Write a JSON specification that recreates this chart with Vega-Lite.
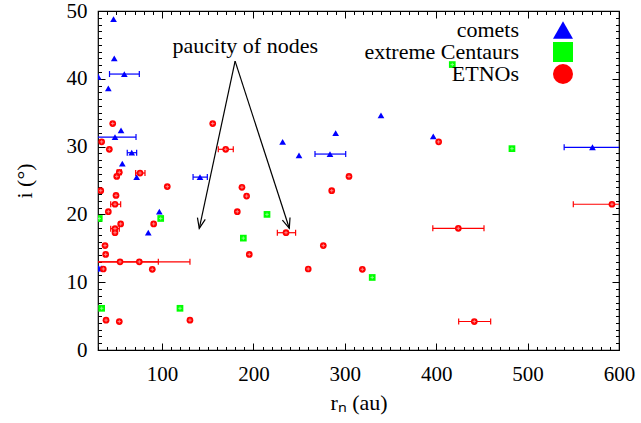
{
  "$schema": "https://vega.github.io/schema/vega-lite/v6.json",
  "width": 521,
  "height": 339,
  "autosize": "none",
  "padding": {"left": 98, "top": 11, "right": 22, "bottom": 73},
  "config": {
    "view": {"stroke": "black", "strokeWidth": 1.2},
    "axis": {
      "labelColor": "black", "titleColor": "black", "tickColor": "black",
      "domain": false, "grid": false, "labelFontSize": 21, "titleFontSize": 22,
      "titleFontWeight": "normal", "labelFlush": false, "tickWidth": 1
    },
    "legend": {"labelFontSize": 22, "labelColor": "black"}
  },
  "datasets": {
    "pts": [
      {"g": "comets", "x": 47, "y": 48.8},
      {"g": "comets", "x": 47.8, "y": 43.0},
      {"g": "comets", "x": 58.8, "y": 40.7, "lo": 42.6, "hi": 75.2},
      {"g": "comets", "x": 30.3, "y": 40.3},
      {"g": "comets", "x": 41.3, "y": 38.6},
      {"g": "comets", "x": 55.2, "y": 32.4},
      {"g": "comets", "x": 48.6, "y": 31.4, "lo": 25.6, "hi": 71.6},
      {"g": "comets", "x": 66.9, "y": 29.1, "lo": 62, "hi": 72.3},
      {"g": "comets", "x": 56.6, "y": 27.5},
      {"g": "comets", "x": 72.3, "y": 25.5},
      {"g": "comets", "x": 141.6, "y": 25.5, "lo": 134, "hi": 149.6},
      {"g": "comets", "x": 85, "y": 17.3},
      {"g": "comets", "x": 97.1, "y": 20.4},
      {"g": "comets", "x": 32.2, "y": 12.0, "lo": 30.5, "hi": 34},
      {"g": "comets", "x": 339.6, "y": 34.6},
      {"g": "comets", "x": 290, "y": 32.0},
      {"g": "comets", "x": 396.8, "y": 31.5},
      {"g": "comets", "x": 283.8, "y": 28.9, "lo": 267.4, "hi": 301},
      {"g": "comets", "x": 249.9, "y": 28.7},
      {"g": "comets", "x": 232, "y": 30.7},
      {"g": "comets", "x": 571, "y": 29.9, "lo": 540, "hi": 602},
      {"g": "extreme Centaurs", "x": 31.4, "y": 19.4},
      {"g": "extreme Centaurs", "x": 98.6, "y": 19.4},
      {"g": "extreme Centaurs", "x": 34, "y": 6.15},
      {"g": "extreme Centaurs", "x": 119.7, "y": 6.15},
      {"g": "extreme Centaurs", "x": 214.9, "y": 20.0},
      {"g": "extreme Centaurs", "x": 189, "y": 16.5},
      {"g": "extreme Centaurs", "x": 482.9, "y": 29.7},
      {"g": "extreme Centaurs", "x": 330, "y": 10.7},
      {"g": "extreme Centaurs", "x": 417.6, "y": 42.1},
      {"g": "ETNOs", "x": 46.1, "y": 33.4},
      {"g": "ETNOs", "x": 34, "y": 30.7},
      {"g": "ETNOs", "x": 42.4, "y": 29.6},
      {"g": "ETNOs", "x": 53.3, "y": 26.2, "lo": 51, "hi": 55.6},
      {"g": "ETNOs", "x": 50.5, "y": 25.6},
      {"g": "ETNOs", "x": 76, "y": 26.1, "lo": 71.2, "hi": 81.4},
      {"g": "ETNOs", "x": 105.8, "y": 24.1},
      {"g": "ETNOs", "x": 33, "y": 23.5},
      {"g": "ETNOs", "x": 49.7, "y": 22.8},
      {"g": "ETNOs", "x": 48.6, "y": 21.5, "lo": 43.9, "hi": 54.8},
      {"g": "ETNOs", "x": 41.3, "y": 20.4},
      {"g": "ETNOs", "x": 54.8, "y": 18.6},
      {"g": "ETNOs", "x": 48.6, "y": 17.9, "lo": 43.9, "hi": 53.3},
      {"g": "ETNOs", "x": 48.6, "y": 17.3},
      {"g": "ETNOs", "x": 90.9, "y": 18.6},
      {"g": "ETNOs", "x": 37.7, "y": 15.4},
      {"g": "ETNOs", "x": 38.4, "y": 14.1},
      {"g": "ETNOs", "x": 54.1, "y": 13.0, "lo": 12, "hi": 96},
      {"g": "ETNOs", "x": 75.2, "y": 13.0, "lo": 20, "hi": 130.6},
      {"g": "ETNOs", "x": 35.8, "y": 11.95},
      {"g": "ETNOs", "x": 89.4, "y": 11.9},
      {"g": "ETNOs", "x": 38.8, "y": 4.4},
      {"g": "ETNOs", "x": 53.3, "y": 4.2},
      {"g": "ETNOs", "x": 130.6, "y": 4.4},
      {"g": "ETNOs", "x": 155.5, "y": 33.4},
      {"g": "ETNOs", "x": 169.7, "y": 29.6, "lo": 161.6, "hi": 178},
      {"g": "ETNOs", "x": 187.5, "y": 24.0},
      {"g": "ETNOs", "x": 192.6, "y": 22.7},
      {"g": "ETNOs", "x": 182.4, "y": 20.4},
      {"g": "ETNOs", "x": 235.7, "y": 17.3, "lo": 226.2, "hi": 246.2},
      {"g": "ETNOs", "x": 195.5, "y": 14.1},
      {"g": "ETNOs", "x": 276.5, "y": 15.4},
      {"g": "ETNOs", "x": 260, "y": 11.95},
      {"g": "ETNOs", "x": 304.6, "y": 25.6},
      {"g": "ETNOs", "x": 285.7, "y": 23.5},
      {"g": "ETNOs", "x": 402.7, "y": 30.7},
      {"g": "ETNOs", "x": 319.2, "y": 11.9},
      {"g": "ETNOs", "x": 424.2, "y": 17.95, "lo": 396.3, "hi": 452.3},
      {"g": "ETNOs", "x": 592.3, "y": 21.5, "lo": 550, "hi": 634},
      {"g": "ETNOs", "x": 441.7, "y": 4.2, "lo": 424.6, "hi": 459.6}
    ],
    "arrows": [
      {"id": "L", "x": 180, "y": 42.6, "x2": 140.8, "y2": 17.95},
      {"id": "R", "x": 180, "y": 42.6, "x2": 239.3, "y2": 17.95}
    ],
    "note": [{"x": 191.1, "y": 43.8, "t": "paucity of nodes"}]
  },
  "layer": [
    {
      "data": {"name": "pts"},
      "transform": [{"filter": "isValid(datum.lo)"}],
      "mark": {"type": "rule", "clip": true, "strokeWidth": 1.2},
      "encoding": {
        "x": {"field": "lo", "type": "quantitative",
          "scale": {"domain": [30, 600], "nice": false, "zero": false},
          "axis": {"orient": "bottom", "values": [30,40,50,60,70,80,90,110,120,130,140,150,160,170,180,190,210,220,230,240,250,260,270,280,290,310,320,330,340,350,360,370,380,390,410,420,430,440,450,460,470,480,490,510,520,530,540,550,560,570,580,590], "tickSize": -3.5, "labels": false, "title": null}},
        "x2": {"field": "hi"},
        "y": {"field": "y", "type": "quantitative",
          "scale": {"domain": [0, 50], "nice": false, "zero": false},
          "axis": {"orient": "left", "values": [1,2,3,4,5,6,7,8,9,11,12,13,14,15,16,17,18,19,21,22,23,24,25,26,27,28,29,31,32,33,34,35,36,37,38,39,41,42,43,44,45,46,47,48,49], "tickSize": -3.5, "labels": false, "title": null}},
        "color": {"field": "g", "type": "nominal", "legend": null,
          "scale": {"domain": ["comets", "extreme Centaurs", "ETNOs"], "range": ["#0000ff", "#00ff00", "#ff0000"]}}
      }
    },
    {
      "data": {"name": "pts"},
      "transform": [{"filter": "isValid(datum.lo)"}],
      "mark": {"type": "point", "shape": "M0,-1L0,1", "size": 36, "filled": false, "clip": true, "strokeWidth": 1.2, "opacity": 1},
      "encoding": {
        "x": {"field": "lo", "type": "quantitative", "axis": null},
        "y": {"field": "y", "type": "quantitative", "axis": null},
        "color": {"field": "g", "type": "nominal", "legend": null}
      }
    },
    {
      "data": {"name": "pts"},
      "transform": [{"filter": "isValid(datum.hi)"}],
      "mark": {"type": "point", "shape": "M0,-1L0,1", "size": 36, "filled": false, "clip": true, "strokeWidth": 1.2, "opacity": 1},
      "encoding": {
        "x": {"field": "hi", "type": "quantitative", "axis": null},
        "y": {"field": "y", "type": "quantitative", "axis": null},
        "color": {"field": "g", "type": "nominal", "legend": null}
      }
    },
    {
      "data": {"name": "pts"},
      "mark": {"type": "point", "filled": true, "clip": true, "opacity": 1, "size": 45},
      "encoding": {
        "x": {"field": "x", "type": "quantitative",
          "axis": {"orient": "bottom", "values": [100, 200, 300, 400, 500, 600], "tickSize": -7, "labelPadding": 20, "labelFont": "Liberation Serif", "titleFont": "Liberation Serif", "title": "rₙ (au)", "titlePadding": 8}},
        "y": {"field": "y", "type": "quantitative",
          "axis": {"orient": "left", "values": [0, 10, 20, 30, 40, 50], "tickSize": -7, "labelPadding": 18, "labelFont": "Liberation Serif", "titleFont": "Liberation Serif", "title": "i (°)", "titlePadding": 30}},
        "color": {"field": "g", "type": "nominal",
          "legend": {
            "title": null, "orient": "none", "legendX": 454, "legendY": 8, "direction": "vertical",
            "labelFont": "Liberation Serif", "labelAlign": "right", "labelOffset": -55, "labelLimit": 400,
            "symbolSize": 400, "symbolStrokeWidth": 1.3, "rowPadding": -3, "padding": 0,
            "encode": {
              "labels": {"font": {"value": "Liberation Serif"}},
              "symbols": {
                "shape": {"value": {"expr": "datum.value === 'comets' ? 'M-3,0L3,0M-3,-0.3L-3,0.3M3,-0.3L3,0.3M0,-0.32L0.3,0.22L-0.3,0.22Z' : datum.value === 'ETNOs' ? 'M-3,0L3,0M-3,-0.3L-3,0.3M3,-0.3L3,0.3M0.27,0A0.27,0.27 0 1,1 -0.27,0A0.27,0.27 0 1,1 0.27,0M-0.27,0L0.27,0M0,-0.27L0,0.27' : 'M-3,0L3,0M-3,-0.3L-3,0.3M3,-0.3L3,0.3M-0.25,-0.25L0.25,-0.25L0.25,0.25L-0.25,0.25Z'"}},
                "fill": {"value": "transparent"},
                "stroke": {"value": {"expr": "scale('color', datum.value)"}},
                "strokeWidth": {"value": 1.3},
                "opacity": {"value": 1}
              }
            }
          }},
        "shape": {"field": "g", "type": "nominal",
          "scale": {"domain": ["comets", "extreme Centaurs", "ETNOs"], "range": ["triangle-up", "square", "circle"]}}
      }
    },
    {
      "data": {"name": "pts"},
      "transform": [{"filter": "datum.g !== 'comets'"}],
      "mark": {"type": "point", "shape": "M-1,0L1,0M0,-1L0,1", "size": 12, "filled": false, "clip": true, "color": "white", "strokeWidth": 0.8, "opacity": 0.6},
      "encoding": {
        "x": {"field": "x", "type": "quantitative", "axis": null},
        "y": {"field": "y", "type": "quantitative", "axis": null}
      }
    },
    {
      "data": {"name": "arrows"},
      "mark": {"type": "rule", "color": "black", "strokeWidth": 1.2},
      "encoding": {
        "x": {"field": "x", "type": "quantitative",
          "axis": {"orient": "top", "values": [30,40,50,60,70,80,90,110,120,130,140,150,160,170,180,190,210,220,230,240,250,260,270,280,290,310,320,330,340,350,360,370,380,390,410,420,430,440,450,460,470,480,490,510,520,530,540,550,560,570,580,590], "tickSize": -3.5, "labels": false, "title": null}},
        "y": {"field": "y", "type": "quantitative",
          "axis": {"orient": "right", "values": [1,2,3,4,5,6,7,8,9,11,12,13,14,15,16,17,18,19,21,22,23,24,25,26,27,28,29,31,32,33,34,35,36,37,38,39,41,42,43,44,45,46,47,48,49], "tickSize": -3.5, "labels": false, "title": null}},
        "x2": {"field": "x2"},
        "y2": {"field": "y2"}
      }
    },
    {
      "data": {"name": "arrows"},
      "transform": [{"filter": "datum.id === 'L'"}],
      "mark": {"type": "point", "shape": "M-1,-0.4L0,0L-1,0.4", "size": 400, "filled": false, "color": "black", "strokeWidth": 1.2, "angle": 102, "opacity": 1},
      "encoding": {
        "x": {"field": "x2", "type": "quantitative", "axis": null},
        "y": {"field": "y2", "type": "quantitative", "axis": null}
      }
    },
    {
      "data": {"name": "arrows"},
      "transform": [{"filter": "datum.id === 'R'"}],
      "mark": {"type": "point", "shape": "M-1,-0.4L0,0L-1,0.4", "size": 400, "filled": false, "color": "black", "strokeWidth": 1.2, "angle": 72, "opacity": 1},
      "encoding": {
        "x": {"field": "x2", "type": "quantitative", "axis": null},
        "y": {"field": "y2", "type": "quantitative", "axis": null}
      }
    },
    {
      "data": {"name": "note"},
      "mark": {"type": "text", "font": "Liberation Serif", "fontSize": 22, "align": "center", "baseline": "alphabetic", "color": "black"},
      "encoding": {
        "x": {"field": "x", "type": "quantitative",
          "axis": {"orient": "top", "values": [100, 200, 300, 400, 500, 600], "tickSize": -7, "labels": false, "title": null}},
        "y": {"field": "y", "type": "quantitative",
          "axis": {"orient": "right", "values": [0, 10, 20, 30, 40, 50], "tickSize": -7, "labels": false, "title": null}},
        "text": {"field": "t"}
      }
    }
  ],
  "resolve": {"axis": {"x": "independent", "y": "independent"}, "legend": {"color": "independent", "shape": "independent"}}
}
